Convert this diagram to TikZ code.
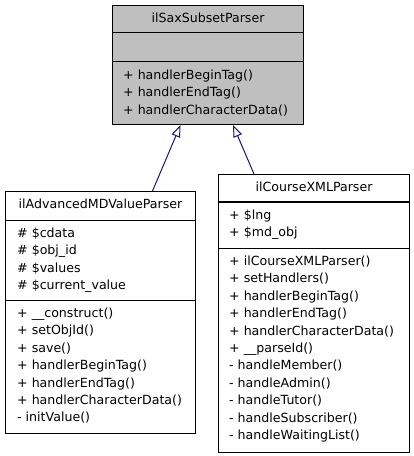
\documentclass[tikz,border=0pt]{standalone}
\usepackage{fontspec}
\setmainfont{DejaVu Sans}
\usetikzlibrary{arrows.meta}

\definecolor{baseGray}{HTML}{BFBFBF}
\definecolor{edgeNavy}{HTML}{191970}

\def\rowSkip{17.4}
\def\firstRow{7.8}

\tikzset{
  classbox/.style = {draw, line width = 1bp, inner sep = 0pt, anchor = north west},
  classtitle/.style = {inner sep = 0pt, anchor = base},
  members/.style = {inner sep = 0pt, anchor = north west, align = left},
  inherits/.style = {draw = edgeNavy, line width = 1bp,
    -{Triangle[open, length = 12bp, width = 9bp, line width = 1bp]}},
  every node/.style = {font = \fontsize{12.6bp}{17.4bp}\selectfont}
}

\begin{document}
\begin{tikzpicture}[x = 1bp, y = -1bp]
  \useasboundingbox (0,0) rectangle (413,456);

  %% base class
  \node (sax) [classbox, fill = baseGray, minimum width = 191bp, minimum height = 119bp]
    at (112,5) {};
  \node (saxTitle) [classtitle] at ([yshift = -18bp] sax.north) {ilSaxSubsetParser};
  \draw [line width = 1bp]
    ([yshift = -28bp] sax.north west) -- ([yshift = -28bp] sax.north east)
    ([yshift = -57bp] sax.north west) -- ([yshift = -57bp] sax.north east)
    ;
  \node (saxOps) [members] at ([xshift = 11bp, yshift = -57bp - \firstRow bp] sax.north west)
    {+ handlerBeginTag()\\+ handlerEndTag()\\+ handlerCharacterData()};

  %% left child
  \node (adv) [classbox, minimum width = 190bp, minimum height = 242bp]
    at (5,191) {};
  \node (advTitle) [classtitle] at ([yshift = -18bp] adv.north) {ilAdvancedMDValueParser};
  \draw [line width = 1bp]
    ([yshift = -29bp] adv.north west) -- ([yshift = -29bp] adv.north east)
    ([yshift = -109bp] adv.north west) -- ([yshift = -109bp] adv.north east)
    ;
  \node (advAttrs) [members] at ([xshift = 12bp, yshift = -29bp - \firstRow bp] adv.north west)
    {\# \$cdata\\\# \$obj\_id\\\# \$values\\\# \$current\_value};
  \node (advOps) [members] at ([xshift = 12bp, yshift = -109bp - \firstRow bp] adv.north west)
    {+ \_\_construct()\\+ setObjId()\\+ save()\\+ handlerBeginTag()\\+ handlerEndTag()\\%
     + handlerCharacterData()\\- initValue()};

  %% right child
  \node (course) [classbox, minimum width = 191bp, minimum height = 278bp]
    at (218,174) {};
  \node (courseTitle) [classtitle] at ([yshift = -18bp] course.north) {ilCourseXMLParser};
  \draw [line width = 1bp]
    ([yshift = -28bp] course.north west) -- ([yshift = -28bp] course.north east)
    ([yshift = -74bp] course.north west) -- ([yshift = -74bp] course.north east)
    ;
  \node (courseAttrs) [members] at ([xshift = 11bp, yshift = -28bp - \firstRow bp] course.north west)
    {+ \$lng\\+ \$md\_obj};
  \node (courseOps) [members] at ([xshift = 11bp, yshift = -74bp - \firstRow bp] course.north west)
    {+ ilCourseXMLParser()\\+ setHandlers()\\+ handlerBeginTag()\\+ handlerEndTag()\\%
     + handlerCharacterData()\\+ \_\_parseId()\\- handleMember()\\- handleAdmin()\\%
     - handleTutor()\\- handleSubscriber()\\- handleWaitingList()};

  %% generalisations
  \draw [inherits] ([xshift = 52bp] adv.north) -- ([xshift = -27.5bp] sax.south);
  \draw [inherits] ([xshift = -60bp] course.north) -- ([xshift = 25bp] sax.south);
\end{tikzpicture}
\end{document}
